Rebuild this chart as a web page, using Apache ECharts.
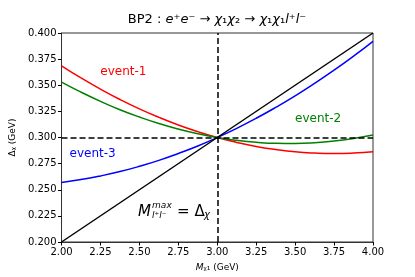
<!DOCTYPE html>
<html><head><meta charset="utf-8">
<script src="https://cdn.jsdelivr.net/npm/echarts@6/dist/echarts.min.js"></script>
<style>html,body{margin:0;padding:0;background:#fff}#c{width:415px;height:277px}</style>
</head><body><div id="c"></div>
<script>
const xs = [2.0,2.125,2.25,2.375,2.5,2.625,2.75,2.875,3.0,3.125,3.25,3.375,3.5,3.625,3.75,3.875,4.0];
const event1 = [0.3686,0.3570,0.3463,0.3364,0.3274,0.3193,0.3120,0.3056,0.3000,0.2953,0.2914,0.2885,0.2863,0.2851,0.2846,0.2851,0.2864];
const event2 = [0.3530,0.3434,0.3346,0.3266,0.3196,0.3134,0.3081,0.3036,0.3000,0.2973,0.2954,0.2944,0.2943,0.2950,0.2966,0.2991,0.3024];
const event3 = [0.2570,0.2597,0.2632,0.2674,0.2724,0.2781,0.2847,0.2919,0.3000,0.3088,0.3184,0.3288,0.3399,0.3518,0.3644,0.3778,0.3920];
const diagX = [2.0, 4.0];
const diagY = [0.200, 0.400];
const hLineY = 0.300;
const vLineX = 3.0;
const labelNames = ['event-1','event-2','event-3'];
const labelPos = [[2.397,0.3632],[3.648,0.3181],[2.200,0.2840]];
const labelColors = ['#ff0000','#008000','#0000ff'];
const formulaPos = [2.71, 0.229];

const FONT = 'DejaVu Sans';
const chart = echarts.init(document.getElementById('c'), null, {renderer:'canvas'});
const pair = (a,b)=>a.map((v,i)=>[v,b[i]]);
const lineS = (name, data, color)=>({type:'line', name, data, smooth:true, showSymbol:false, symbol:'none',
  lineStyle:{color, width:1.5}, z:3, animation:false});

const opt = {
  animation:false,
  title:{
    text:'BP2 : {i|e}⁺{i|e}⁻ → {i|χ}₁{i|χ}₂ → {i|χ}₁{i|χ}₁{i|l}⁺{i|l}⁻',
    left:212, top:8, textAlign:'center',
    textStyle:{fontFamily:FONT, fontSize:13, fontWeight:'normal', color:'#000',
      rich:{i:{fontFamily:FONT, fontSize:13, fontStyle:'italic', color:'#000'}}}
  },
  grid:{left:52, right:42, top:33, bottom:35, show:true, borderColor:'#333', borderWidth:1},
  xAxis:{type:'value', min:2, max:4, interval:0.25,
    name:'{i|M}ᵪ₁ (GeV)', nameLocation:'middle', nameGap:21,
    nameTextStyle:{fontFamily:FONT, fontSize:9, color:'#000', rich:{i:{fontFamily:FONT,fontSize:9,fontStyle:'italic',color:'#000'}}},
    axisLine:{show:true, onZero:false, lineStyle:{color:'#333', width:1}},
    axisTick:{show:true, length:3.5, lineStyle:{color:'#000'}},
    axisLabel:{fontFamily:FONT, fontSize:10, color:'#000', margin:5, formatter:v=>v.toFixed(2)},
    splitLine:{show:false}},
  yAxis:{type:'value', min:0.2, max:0.4, interval:0.025,
    name:'Δᵪ (GeV)', nameLocation:'middle', nameGap:40,
    nameTextStyle:{fontFamily:FONT, fontSize:9, color:'#000'},
    axisLine:{show:true, onZero:false, lineStyle:{color:'#333', width:1}},
    axisTick:{show:true, length:3.5, lineStyle:{color:'#000'}},
    axisLabel:{fontFamily:FONT, fontSize:10, color:'#000', margin:5, formatter:v=>v.toFixed(3)},
    splitLine:{show:false}},
  series:[
    lineS('event-1', pair(xs,event1), '#ff0000'),
    lineS('event-2', pair(xs,event2), '#008000'),
    lineS('event-3', pair(xs,event3), '#0000ff'),
    {type:'line', data:pair(diagX,diagY), showSymbol:false, symbol:'none', lineStyle:{color:'#000', width:1.5}, z:4,
     markLine:{silent:true, symbol:'none', animation:false, label:{show:false},
       lineStyle:{color:'#000', type:[6,3], width:1.5},
       data:[{yAxis:hLineY},{xAxis:vLineX}]}}
  ]
};
chart.setOption(opt);

const g = [];
labelNames.forEach((n,i)=>{
  const q = chart.convertToPixel({gridIndex:0}, labelPos[i]);
  g.push({type:'text', x:q[0], y:q[1], z:10, style:{text:n, fontFamily:FONT, fontSize:12, fill:labelColors[i], align:'center', verticalAlign:'middle'}});
});
const p = chart.convertToPixel({gridIndex:0}, formulaPos);
const base = p[1];
g.push(
  {type:'text', x:p[0]-34, y:base, style:{text:'M', fontFamily:FONT, fontSize:15, fontStyle:'italic', fill:'#000', verticalAlign:'middle', align:'left'}},
  {type:'text', x:p[0]-20, y:base-6, style:{text:'max', fontFamily:FONT, fontSize:9, fontStyle:'italic', fill:'#000', verticalAlign:'middle', align:'left'}},
  {type:'text', x:p[0]-20, y:base+4, style:{text:'l⁺l⁻', fontFamily:FONT, fontSize:9, fontStyle:'italic', fill:'#000', verticalAlign:'middle', align:'left'}},
  {type:'text', x:p[0]+5, y:base, style:{text:'= Δ', fontFamily:FONT, fontSize:15, fill:'#000', verticalAlign:'middle', align:'left'}},
  {type:'text', x:p[0]+32, y:base+4, style:{text:'χ', fontFamily:FONT, fontSize:10, fontStyle:'italic', fill:'#000', verticalAlign:'middle', align:'left'}}
);
chart.setOption({graphic:g});
</script></body></html>
